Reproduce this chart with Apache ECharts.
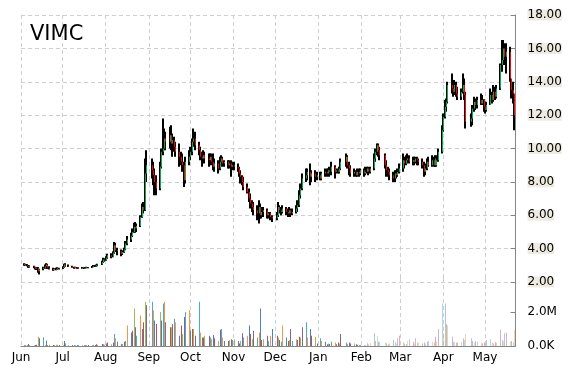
<!DOCTYPE html>
<html><head><meta charset="utf-8">
<script src="https://cdn.jsdelivr.net/npm/echarts@6/dist/echarts.min.js"></script>
<style>html,body{margin:0;padding:0;background:#fff}#c{width:570px;height:370px}</style>
</head><body><div id="c"></div>
<script>
// rows: [day, open, close, low, high, volume (millions)]
const jun13 = [[3,3.10,3.02,2.98,3.12,0.05],[4,3.02,3.05,2.98,3.10,0.04],[5,3.05,2.98,2.95,3.08,0.06],[6,2.98,2.92,2.85,3.02,0.12],[7,2.92,2.95,2.85,3.00,0.05],[10,2.95,2.88,2.82,2.98,0.04],[11,2.88,2.80,2.75,2.92,0.06],[12,2.80,2.85,2.72,2.90,0.08],[13,2.85,2.65,2.55,2.90,0.55],[14,2.65,2.75,2.45,2.80,0.45],[17,2.78,2.85,2.70,2.92,0.52],[18,2.85,2.95,2.80,3.05,0.05],[19,2.95,3.05,2.90,3.12,0.32],[20,3.05,2.85,2.78,3.10,0.05],[21,2.85,2.80,2.75,2.95,0.08],[24,2.80,2.72,2.68,2.85,0.06],[25,2.72,2.78,2.70,2.82,0.04],[26,2.78,2.75,2.70,2.85,0.07],[27,2.75,2.82,2.72,2.88,0.05],[28,2.82,2.80,2.75,2.86,0.06]];
const jul13 = [[1,2.82,2.90,2.78,2.95,0.05],[2,2.90,3.05,2.85,3.10,0.30],[3,3.05,2.98,2.92,3.12,0.15],[5,2.98,2.95,2.90,3.05,0.04],[8,2.95,2.88,2.85,2.98,0.06],[9,2.88,2.85,2.80,2.92,0.05],[10,2.85,2.88,2.82,2.92,0.04],[11,2.88,2.85,2.80,2.90,0.05],[12,2.85,2.83,2.80,2.88,0.06],[15,2.83,2.86,2.80,2.90,0.04],[16,2.86,2.82,2.78,2.88,0.05],[17,2.82,2.85,2.80,2.90,0.05],[18,2.85,2.88,2.82,2.92,0.04],[19,2.88,2.86,2.82,2.90,0.06],[22,2.86,2.92,2.84,2.96,0.05],[23,2.92,2.98,2.88,3.02,0.07],[24,2.98,2.95,2.90,3.02,0.06],[25,2.95,3.00,2.92,3.05,0.10],[26,3.00,3.05,2.95,3.10,0.08],[29,3.05,3.20,3.02,3.28,0.12],[30,3.20,3.35,3.15,3.45,0.10],[31,3.35,3.30,3.22,3.42,0.08]];
const aug13 = [[1,3.30,3.45,3.28,3.55,0.15],[2,3.45,3.60,3.40,3.70,0.20],[5,3.60,3.50,3.42,3.72,0.10],[6,3.50,3.75,3.48,3.85,0.20],[7,3.75,4.20,3.70,4.40,0.70],[8,4.20,3.90,3.80,4.35,0.45],[9,3.90,3.85,3.60,4.05,0.25],[12,3.85,3.70,3.55,3.95,0.10],[13,3.70,3.80,3.62,3.90,0.12],[14,3.80,3.95,3.75,4.05,0.25],[15,3.95,4.30,3.90,4.45,0.30],[16,4.30,4.55,4.20,4.75,1.20],[19,4.55,4.75,4.40,4.95,0.80],[20,4.75,5.00,4.70,5.20,0.90],[21,5.00,5.30,4.95,5.55,2.20],[22,5.30,5.20,4.95,5.60,1.10],[23,5.20,5.35,5.00,5.50,0.60],[26,5.35,5.90,5.30,6.00,1.80],[27,5.90,6.50,5.85,6.70,1.00],[28,6.50,6.30,6.10,6.80,1.40],[29,6.30,8.50,6.25,9.40,2.60],[30,8.50,9.00,8.00,9.90,2.40]];
const sep13 = [[3,9.00,8.70,8.20,9.40,2.60],[4,8.70,8.40,7.80,9.20,2.10],[5,8.40,8.00,7.20,8.80,1.50],[6,8.00,7.60,7.20,8.40,1.30],[9,7.60,8.90,7.50,9.20,2.00],[10,8.90,9.80,8.80,10.00,1.50],[11,9.80,10.00,9.60,11.80,2.50],[12,10.00,10.60,9.90,11.20,2.60],[13,10.60,10.40,9.90,11.00,1.40],[16,10.40,10.80,10.00,11.30,1.10],[17,10.80,10.30,9.90,11.40,1.10],[18,10.30,10.50,9.50,10.90,1.30],[19,10.50,10.10,9.80,10.70,1.60],[20,10.10,9.80,9.50,10.40,1.40],[23,9.80,9.50,8.90,10.30,0.60],[24,9.50,9.20,9.00,9.80,1.20],[25,9.20,9.00,8.60,9.70,0.70],[26,9.00,8.10,7.70,9.20,1.70],[27,8.10,9.20,7.90,9.50,2.00],[30,9.20,9.50,9.00,9.90,2.10]];
const oct13 = [[1,9.50,9.80,9.30,10.10,0.90],[2,9.80,10.40,9.60,10.60,1.00],[3,10.40,10.60,10.10,11.20,1.00],[4,10.60,10.20,9.90,11.00,0.60],[7,10.20,9.90,9.60,10.40,2.60],[8,9.90,9.50,9.30,10.10,0.80],[9,9.50,9.40,8.90,9.80,0.50],[10,9.40,9.60,9.20,9.90,0.50],[11,9.60,9.40,9.10,9.80,0.60],[14,9.40,9.30,8.90,9.70,0.60],[15,9.30,9.50,9.10,9.70,0.50],[16,9.50,9.20,9.00,9.70,0.40],[17,9.20,8.90,8.70,9.70,0.65],[18,8.90,9.10,8.60,9.40,0.45],[21,9.10,8.80,8.50,9.30,0.30],[22,8.80,9.20,8.70,9.50,0.95],[23,9.20,9.40,9.00,9.60,1.00],[24,9.40,9.10,8.90,9.50,0.50],[25,9.10,9.20,8.90,9.30,0.30],[28,9.20,9.00,8.80,9.30,0.30],[29,9.00,9.10,8.80,9.30,0.35],[30,9.10,8.90,8.30,9.30,0.40],[31,8.90,9.00,8.70,9.20,0.35]];
const nov13 = [[1,9.00,8.90,8.70,9.20,0.40],[4,8.90,8.80,8.60,9.10,0.30],[5,8.80,8.50,8.30,8.90,0.15],[6,8.50,8.30,7.90,8.70,0.30],[7,8.30,8.00,7.80,8.40,0.75],[8,8.00,7.70,7.50,8.30,0.50],[11,7.70,7.40,7.30,7.90,0.60],[12,7.40,7.00,6.80,7.60,1.20],[13,7.00,6.70,6.40,7.30,0.70],[14,6.70,6.50,6.20,6.90,0.40],[15,6.50,6.30,6.00,6.80,0.90],[18,6.30,6.10,5.70,6.60,0.50],[19,6.10,6.50,5.50,6.90,0.80],[20,6.50,6.00,5.80,6.70,2.20],[21,6.00,6.20,5.80,6.50,0.35],[22,6.20,6.30,5.90,6.50,0.40],[25,6.30,6.00,5.80,6.40,0.60],[26,6.00,6.10,5.80,6.20,0.30],[27,6.10,5.90,5.70,6.20,0.60],[29,5.90,5.80,5.60,6.00,1.00]];
const dec13 = [[2,5.80,6.00,5.70,6.20,0.60],[3,6.00,6.50,5.90,6.80,0.50],[4,6.50,6.30,6.10,6.60,0.35],[5,6.30,6.20,6.00,6.50,0.25],[6,6.20,6.40,6.10,6.60,1.20],[9,6.40,6.20,6.00,6.50,0.50],[10,6.20,6.10,5.90,6.40,0.30],[11,6.10,6.30,6.00,6.50,0.35],[12,6.30,6.10,5.90,6.40,1.00],[13,6.10,6.20,6.00,6.40,0.30],[16,6.20,6.40,6.10,6.60,0.40],[17,6.40,6.60,6.20,6.90,0.35],[18,6.60,7.20,6.50,7.50,0.55],[19,7.20,7.60,7.00,7.90,0.50],[20,7.60,8.20,7.50,8.50,1.10],[23,8.20,8.40,8.00,8.80,1.40],[24,8.40,8.60,8.10,8.80,0.50],[26,8.60,8.30,7.80,9.10,1.00],[27,8.30,8.50,8.00,8.70,0.60],[30,8.50,8.30,8.00,8.70,0.55],[31,8.30,8.40,8.10,8.60,0.15]];
const jan14 = [[2,8.40,8.20,8.10,8.60,0.45],[3,8.20,8.50,8.10,8.60,0.30],[6,8.50,8.60,8.30,8.80,0.25],[7,8.60,8.50,8.30,8.80,0.10],[8,8.50,8.70,8.40,8.80,0.15],[9,8.70,8.60,8.30,8.90,0.12],[10,8.60,8.90,8.40,9.20,0.25],[13,8.90,8.60,8.20,9.00,0.20],[14,8.60,8.70,8.50,8.80,0.10],[15,8.70,8.60,8.50,8.80,0.20],[16,8.60,8.80,8.50,8.90,0.15],[17,8.80,9.20,8.70,9.40,0.70],[21,9.20,9.50,8.90,9.70,0.20],[22,9.50,9.00,8.80,9.60,0.12],[23,9.00,8.80,8.40,9.20,0.20],[24,8.80,8.50,8.30,9.00,0.15],[27,8.50,8.60,8.30,8.80,0.15],[28,8.60,8.40,8.30,8.70,0.10],[29,8.40,8.60,8.30,8.80,0.08],[30,8.60,8.50,8.30,8.80,0.06],[31,8.50,8.70,8.40,8.80,0.05]];
const feb14 = [[3,8.70,8.50,8.30,8.80,0.06],[4,8.50,8.60,8.40,8.90,0.08],[5,8.60,8.80,8.50,8.90,0.16],[6,8.80,8.60,8.40,8.90,0.10],[7,8.60,8.80,8.50,8.90,0.16],[10,8.80,9.40,8.70,9.70,0.75],[11,9.40,9.80,9.20,10.00,0.30],[12,9.80,10.20,9.60,10.30,0.60],[13,10.20,9.90,9.50,10.30,0.25],[14,9.90,9.60,9.30,10.10,0.25],[18,9.60,9.00,8.80,9.70,0.20],[19,9.00,8.70,8.30,9.30,0.16],[20,8.70,8.60,8.30,8.90,0.10],[21,8.60,8.40,8.10,8.80,0.16],[24,8.40,8.20,8.00,8.60,0.35],[25,8.20,8.50,8.00,8.70,0.24],[26,8.50,8.40,8.20,8.70,0.15],[27,8.40,8.60,8.30,8.80,0.45],[28,8.60,8.80,8.50,9.10,0.60]];
const mar14 = [[3,8.80,9.30,8.60,9.70,0.25],[4,9.30,9.10,8.80,9.50,0.15],[5,9.10,9.30,9.00,9.60,0.12],[6,9.30,9.40,9.10,9.70,0.30],[7,9.40,9.20,9.10,9.60,0.40],[10,9.20,9.30,9.00,9.50,0.25],[11,9.30,9.20,9.00,9.50,0.15],[12,9.20,9.40,9.10,9.50,0.45],[13,9.40,9.30,9.00,9.50,0.20],[14,9.30,9.20,9.00,9.40,0.20],[17,9.20,9.00,8.80,9.40,0.15],[18,9.00,8.60,8.30,9.20,0.20],[19,8.60,8.80,8.40,9.10,0.15],[20,8.80,9.20,8.70,9.40,0.25],[21,9.20,9.00,8.90,9.50,0.30],[24,9.00,9.30,8.90,9.60,0.25],[25,9.30,9.00,8.90,9.50,0.20],[26,9.00,9.40,8.90,9.60,0.55],[27,9.00,9.30,8.90,9.60,0.25],[28,9.30,9.80,9.20,10.00,1.00],[31,9.80,11.10,9.70,11.40,2.50]];
const apr14 = [[1,11.10,11.90,11.00,12.10,0.75],[2,11.90,12.50,11.80,12.90,2.50],[3,12.50,12.80,12.20,13.00,1.30],[4,12.80,13.80,12.70,14.00,1.20],[7,13.80,13.60,13.30,14.50,0.55],[8,13.60,13.40,13.10,14.10,0.25],[9,13.40,13.80,13.20,14.10,0.25],[10,13.80,13.30,13.10,14.00,0.20],[11,13.30,13.10,12.90,13.70,0.20],[14,13.10,13.40,12.90,13.60,0.20],[15,13.40,13.80,13.30,14.50,0.45],[16,13.80,13.20,12.90,14.20,0.35],[17,13.20,11.60,11.20,13.40,0.70],[21,11.60,11.80,11.30,12.10,0.45],[22,11.80,12.40,11.40,12.60,0.30],[23,12.40,12.80,12.20,13.10,0.20],[24,12.80,12.60,12.30,13.00,0.30],[25,12.60,12.90,12.40,13.10,0.25],[28,12.90,12.70,12.60,13.30,0.20],[29,12.70,12.90,12.60,13.20,0.15],[30,12.90,12.50,12.20,12.95,0.20]];
const may14 = [[1,12.50,12.30,12.10,12.80,0.15],[2,12.30,12.60,12.20,12.80,0.35],[5,12.60,13.20,12.60,13.60,0.40],[6,13.20,12.90,12.70,13.40,0.20],[7,12.90,13.40,12.80,13.80,0.15],[8,13.40,13.10,12.90,13.70,0.24],[9,13.10,13.60,13.00,13.80,0.20],[12,13.60,15.00,13.50,15.10,0.95],[13,15.00,15.30,14.60,16.50,0.35],[14,15.30,16.00,15.00,16.50,0.30],[15,16.00,15.50,15.00,16.30,0.75],[16,15.50,15.80,14.50,16.30,0.80],[19,15.80,14.20,14.00,16.10,0.25],[20,14.20,13.50,13.00,14.10,0.30],[21,13.50,13.30,12.70,14.00,0.20],[22,13.30,12.00,11.10,13.00,0.95]];

const monthKeys = ['2013-06','2013-07','2013-08','2013-09','2013-10','2013-11','2013-12','2014-01','2014-02','2014-03','2014-04','2014-05'];
const monthRows = [jun13, jul13, aug13, sep13, oct13, nov13, dec13, jan14, feb14, mar14, apr14, may14];
const monthLabels = ['Jun','Jul','Aug','Sep','Oct','Nov','Dec','Jan','Feb','Mar','Apr','May'];
const xStart = '2013-06-01', xEnd = '2014-05-23';
const priceTicks = {min: 2, max: 18, interval: 2};
const volTicks = {min: 0, max: 4e6, interval: 2e6};
const title = 'VIMC';

function ts(s){ const p = s.split('-').map(Number); return new Date(p[0], p[1]-1, p[2]).getTime(); }
const monthTicks = monthKeys.map(k => ts(k + '-01'));
const ohlc = [], vol = [];
monthKeys.forEach((k, i) => monthRows[i].forEach(r => {
  const t = ts(k + '-' + String(r[0]).padStart(2,'0'));
  ohlc.push([t, r[1], r[2], r[3], r[4]]);
  vol.push([t, r[5] * 1e6]);
}));
const palette = ['#4F81BD','#C0504D','#9BBB59','#8064A2','#4BACC6','#F79646'];
const fadeFrom = ts('2014-02-01');
const FONT = 'DejaVu Sans';

function renderWick(params, api){
  const t = api.value(0), l = api.value(3), h = api.value(4);
  const pl = api.coord([t, l]), ph = api.coord([t, h]);
  const x = Math.round(pl[0]);
  return {type: 'rect', shape: {x: x - 1, y: ph[1], width: 2, height: Math.max(1, pl[1] - ph[1])}, style: {fill: '#000'}};
}
function renderBody(params, api){
  const t = api.value(0), o = api.value(1), c = api.value(2);
  const po = api.coord([t, o]), pc = api.coord([t, c]);
  const x = Math.round(po[0]);
  return {type: 'rect', shape: {x: x, y: Math.min(po[1], pc[1]), width: 1, height: Math.max(1, Math.abs(pc[1] - po[1]))},
    style: {fill: c >= o ? '#00B050' : '#FF0000'}};
}
function renderVolume(params, api){
  const t = api.value(0);
  const b = api.coord([t, 0]), p = api.coord([t, api.value(1)]);
  return {type: 'rect', shape: {x: Math.round(b[0]), y: p[1], width: 1, height: b[1] - p[1]},
    style: {fill: palette[params.dataIndex % palette.length], opacity: t >= fadeFrom ? 0.45 : 1}};
}

const chart = echarts.init(document.getElementById('c'), null, {renderer: 'canvas'});
const splitX = {show: true, lineStyle: {color: '#cfcfcf', type: [4, 3], width: 1}};
const xMin = ts(xStart), xMax = ts(xEnd);
chart.setOption({
  animation: false,
  backgroundColor: '#fff',
  title: {text: title, left: 25, top: 19, textStyle: {fontFamily: FONT, fontSize: 21, fontWeight: 'normal', color: '#000'}},
  grid: [
    {left: 21, right: 54.5, top: 15, height: 267},
    {left: 21, right: 54.5, top: 278, bottom: 24}
  ],
  xAxis: [
    {type: 'value', gridIndex: 0, min: xMin, max: xMax, axisLine: {show: false}, axisTick: {show: false, customValues: monthTicks}, axisLabel: {show: false, customValues: monthTicks}, splitLine: splitX},
    {type: 'value', gridIndex: 1, min: xMin, max: xMax,
     axisLine: {show: true, onZero: false, lineStyle: {color: '#868686', width: 1}},
     axisTick: {show: false, customValues: monthTicks},
     axisLabel: {customValues: monthTicks, margin: 6, color: '#000', fontFamily: FONT, fontSize: 12,
       formatter: v => { const i = monthTicks.indexOf(v); return i >= 0 ? monthLabels[i] : ''; }},
     splitLine: splitX}
  ],
  yAxis: [
    {type: 'value', gridIndex: 0, position: 'right', min: priceTicks.min, max: priceTicks.max, interval: priceTicks.interval,
     axisLine: {show: true, lineStyle: {color: '#868686'}},
     axisTick: {show: true, inside: true, length: 5, lineStyle: {color: '#868686'}},
     axisLabel: {margin: 12, color: '#000', fontFamily: FONT, fontSize: 12, backgroundColor: '#EEECE1', lineHeight: 11, formatter: v => v.toFixed(2)},
     splitLine: {show: true, lineStyle: {color: '#cfcfcf', type: [4, 3]}}},
    {type: 'value', gridIndex: 1, position: 'right', min: volTicks.min, max: volTicks.max, interval: volTicks.interval,
     axisLine: {show: true, lineStyle: {color: '#868686'}},
     axisTick: {show: true, inside: true, length: 5, lineStyle: {color: '#868686'}},
     axisLabel: {margin: 12, color: '#000', fontFamily: FONT, fontSize: 12, showMaxLabel: false,
       formatter: v => v === 0 ? '0.0K' : (v / 1e6).toFixed(1) + 'M'},
     splitLine: {show: false}}
  ],
  series: [
    {type: 'custom', xAxisIndex: 0, yAxisIndex: 0, data: ohlc, renderItem: renderWick, clip: true, z: 2, encode: {x: 0, y: [1, 2, 3, 4]}},
    {type: 'custom', xAxisIndex: 0, yAxisIndex: 0, data: ohlc, renderItem: renderBody, clip: true, z: 3, encode: {x: 0, y: [1, 2, 3, 4]}},
    {type: 'custom', xAxisIndex: 1, yAxisIndex: 1, data: vol, renderItem: renderVolume, clip: true, encode: {x: 0, y: 1}}
  ]
});
</script></body></html>
